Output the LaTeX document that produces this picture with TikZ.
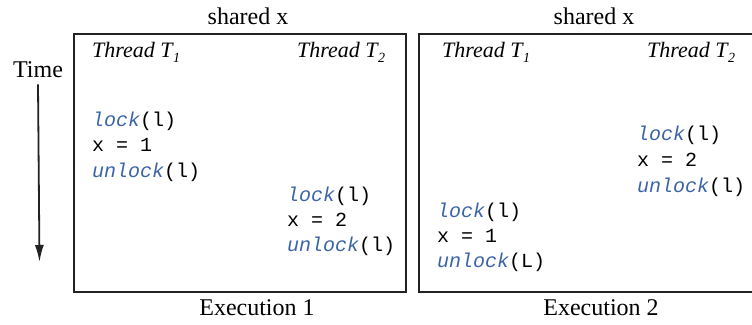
\documentclass[tikz,border=0pt]{standalone}
\usepackage{fontspec}
\setmainfont{Liberation Serif}
\setmonofont{Liberation Mono}
\usetikzlibrary{arrows.meta}
\usetikzlibrary{positioning}
\definecolor{kwblue}{HTML}{3A64A6}
\definecolor{framegray}{HTML}{222222}
\newcommand{\kw}[1]{\textcolor{kwblue}{\itshape #1}}
\newcommand{\thr}[1]{\textit{Thread T\kern0.5pt\raisebox{-5pt}{\fontsize{14}{14}\selectfont #1}}}

\begin{document}
\begin{tikzpicture}[x=1pt,y=-1pt,inner sep=0pt,
		>={Latex[length=17pt,width=9pt]}]
		\tikzset{frame/.style={draw=framegray,line width=2.3pt},
			caption/.style={font=\fontsize{24}{24}\selectfont,anchor=base},
			header/.style={font=\fontsize{22}{22}\selectfont,anchor=base west},
			code/.style={font=\ttfamily\fontsize{20}{20}\selectfont,anchor=base west}}
		\useasboundingbox (0,0) rectangle (752,324);
		
		\draw[frame] (74,34) rectangle (406,292);
		\draw[frame] (419,34) rectangle (756,292);
		
		\node[caption] (shared1) at (248,24)  {shared x};
		\node[caption] (shared2) at (594,24)  {shared x};
		\node[caption] (time)    at (38,77)   {Time};
		\node[caption] (exec1)   at (257,315) {Execution 1};
		\node[caption] (exec2)   at (601,315) {Execution 2};
		
		\coordinate (tend) at (39.5,262);
		\draw[->,line width=1.8pt,draw=framegray] ([yshift=-7pt]time.south) -- (tend);
		
		% execution 1
		\node[header] (e1t1) at (92,57)  {\thr{1}};
		\node[header] (e1t2) at (297,57) {\thr{2}};
		\node[code] (e1lock1)   at (92,126)  {\kw{lock}(l)};
		\node[code] (e1set1)    at (92,151)  {x = 1};
		\node[code] (e1unlock1) at (92,177)  {\kw{unlock}(l)};
		\node[code] (e1lock2)   at (287,201) {\kw{lock}(l)};
		\node[code] (e1set2)    at (287,226) {x = 2};
		\node[code] (e1unlock2) at (287,251) {\kw{unlock}(l)};
		
		% execution 2
		\node[header] (e2t1) at (442,57) {\thr{1}};
		\node[header] (e2t2) at (647,57) {\thr{2}};
		\node[code] (e2lock2)   at (637,140) {\kw{lock}(l)};
		\node[code] (e2set2)    at (637,166) {x = 2};
		\node[code] (e2unlock2) at (637,192) {\kw{unlock}(l)};
		\node[code] (e2lock1)   at (437,217) {\kw{lock}(l)};
		\node[code] (e2set1)    at (437,242) {x = 1};
		\node[code] (e2unlock1) at (437,267) {\kw{unlock}(L)};
		
		\end{tikzpicture}
\end{document}
